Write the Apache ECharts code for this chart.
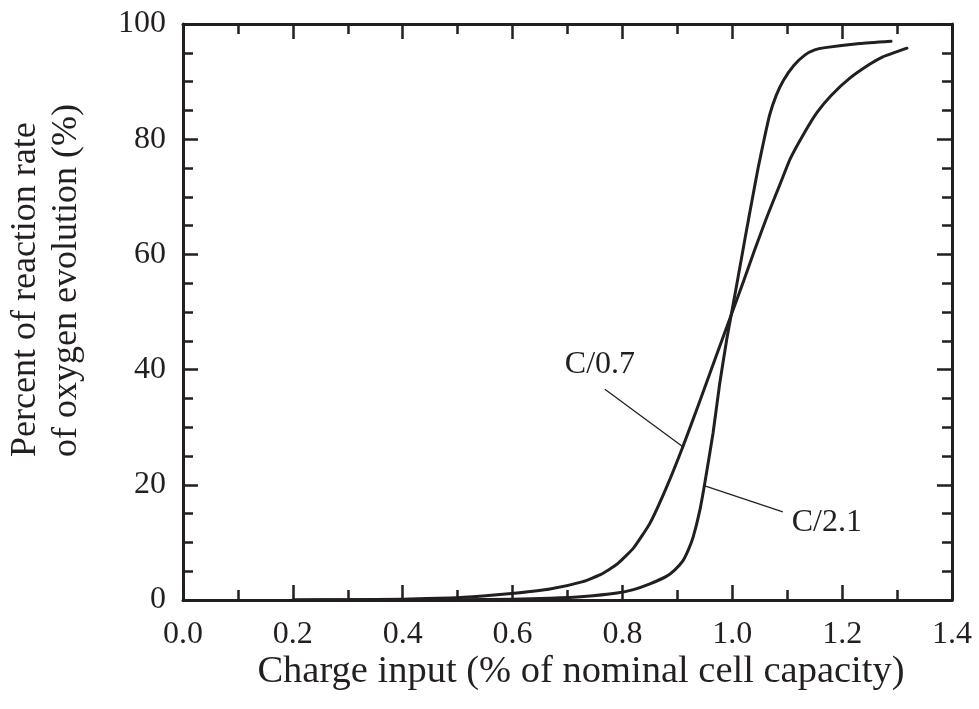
<!DOCTYPE html>
<html>
<head>
<meta charset="utf-8">
<title>Oxygen evolution vs charge input</title>
<script src="https://cdn.jsdelivr.net/npm/echarts@6/dist/echarts.min.js"></script>
<style>
  html, body { margin: 0; padding: 0; background: #ffffff; }
  #chart { width: 979px; height: 709px; }
</style>
</head>
<body>
<div id="chart"></div>
<script>
// Charge input (fraction of nominal capacity) and oxygen-evolution share (%)
var c07X = [0.20, 0.30, 0.40, 0.486, 0.546, 0.608, 0.668, 0.728, 0.760, 0.790, 0.820, 0.850, 0.880, 0.910, 0.940, 0.970, 1.000, 1.020, 1.040, 1.063, 1.087, 1.105, 1.130, 1.154, 1.180, 1.214, 1.250, 1.274, 1.300, 1.318];
var c07Y = [0.0, 0.05, 0.15, 0.35, 0.7, 1.2, 1.9, 3.2, 4.4, 6.2, 9.0, 13.3, 19.5, 26.6, 34.3, 42.2, 50.0, 55.2, 60.6, 66.5, 72.2, 76.5, 80.9, 84.6, 87.6, 90.6, 93.0, 94.3, 95.2, 95.8];

var c21X = [0.20, 0.50, 0.60, 0.668, 0.730, 0.790, 0.820, 0.850, 0.880, 0.895, 0.910, 0.920, 0.929, 0.941, 0.950, 0.965, 0.977, 0.990, 1.000, 1.012, 1.024, 1.036, 1.047, 1.058, 1.068, 1.080, 1.093, 1.112, 1.132, 1.150, 1.169, 1.232, 1.289];
var c21Y = [0.0, 0.05, 0.15, 0.3, 0.6, 1.2, 1.8, 2.8, 4.1, 5.2, 6.8, 8.7, 11.0, 15.6, 20.3, 29.0, 37.5, 45.3, 50.5, 56.8, 63.2, 69.4, 75.0, 80.0, 84.2, 87.6, 90.2, 92.8, 94.6, 95.5, 95.9, 96.6, 97.0];

// Axis ticks
var xTicks = [0.0, 0.2, 0.4, 0.6, 0.8, 1.0, 1.2, 1.4];
var yTicks = [0, 20, 40, 60, 80, 100];

// Curve labels: text anchor and leader line ends, in data units
var labelNames = ['C/0.7', 'C/2.1'];
var labelAt = [[0.759, 40.8], [1.172, 13.4]];
var leaderFrom = [[0.768, 36.6], [0.950, 19.8]];
var leaderTo = [[0.910, 26.6], [1.092, 15.3]];

var INK = '#231f20';
var FONT = '"Liberation Serif", "Times New Roman", serif';

function pairs(xs, ys) {
  return xs.map(function (x, i) { return [x, ys[i]]; });
}

var chart = echarts.init(document.getElementById('chart'), null, { renderer: 'canvas' });

function axisBase(pos, showLabels, isX) {
  var ticks = isX ? xTicks : yTicks;
  return {
    type: 'value',
    position: pos,
    min: ticks[0],
    max: ticks[ticks.length - 1],
    interval: ticks[1] - ticks[0],
    axisLine: { show: true, onZero: false, lineStyle: { color: INK, width: 3 } },
    axisTick: { show: true, inside: true, length: 15, lineStyle: { color: INK, width: 2.5 } },
    minorTick: { show: true, splitNumber: isX ? 2 : 4, length: 10, lineStyle: { color: INK, width: 2.5 } },
    splitLine: { show: false },
    axisLabel: {
      show: showLabels,
      color: INK,
      fontFamily: FONT,
      fontSize: 32,
      margin: isX ? 19 : 17,
      formatter: function (v) { return isX ? v.toFixed(1) : String(v); }
    }
  };
}

var leaderData = leaderFrom.map(function (p, i) {
  return [{ coord: p }, { coord: leaderTo[i] }];
});

function curve(name, xs, ys, extra) {
  var s = {
    name: name,
    type: 'line',
    data: pairs(xs, ys),
    smooth: 0.15,
    symbol: 'none',
    lineStyle: { color: INK, width: 3, join: 'round', cap: 'round' },
    z: 3
  };
  return Object.assign(s, extra || {});
}

chart.setOption({
  animation: false,
  backgroundColor: '#ffffff',
  grid: { left: 183, right: 27, top: 24, bottom: 109, containLabel: false },
  xAxis: [axisBase('bottom', true, true), axisBase('top', false, true)],
  yAxis: [axisBase('left', true, false), axisBase('right', false, false)],
  series: [
    curve('C/0.7', c07X, c07Y, {
      markLine: {
        silent: true,
        symbol: ['none', 'none'],
        label: { show: false },
        lineStyle: { color: INK, width: 1.3, type: 'solid' },
        data: leaderData
      }
    }),
    curve('C/2.1', c21X, c21Y)
  ]
});

// Curve names and axis titles
var g = labelNames.map(function (name, i) {
  var p = chart.convertToPixel({ gridIndex: 0 }, labelAt[i]);
  return {
    type: 'text',
    x: p[0], y: p[1],
    style: { text: name, fill: INK, font: '32px ' + FONT, textAlign: 'center', textVerticalAlign: 'middle' }
  };
});

g.push({
  type: 'text', x: 581, y: 672,
  style: { text: 'Charge input (% of nominal cell capacity)', fill: INK, font: '38.5px ' + FONT, textAlign: 'center', textVerticalAlign: 'middle' }
});
g.push({
  type: 'text', x: 26, y: 457, rotation: Math.PI / 2,
  style: { text: 'Percent of reaction rate', fill: INK, font: '36px ' + FONT, textAlign: 'left', textVerticalAlign: 'middle' }
});
g.push({
  type: 'text', x: 67, y: 457, rotation: Math.PI / 2,
  style: { text: 'of oxygen evolution (%)', fill: INK, font: '36px ' + FONT, textAlign: 'left', textVerticalAlign: 'middle' }
});

chart.setOption({ graphic: g });
</script>
</body>
</html>
